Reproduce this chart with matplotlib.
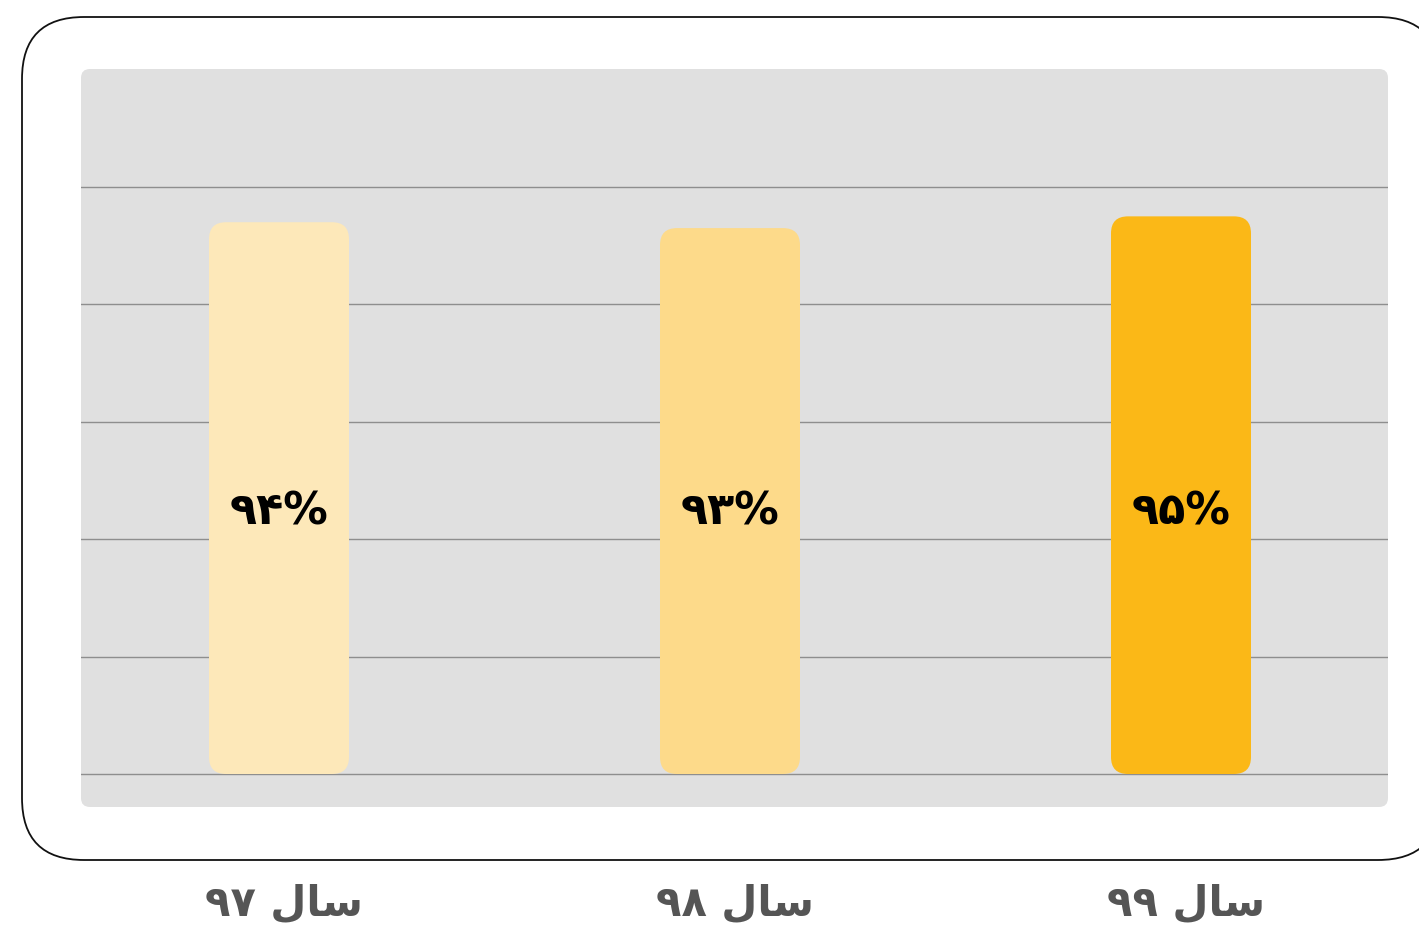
import matplotlib
matplotlib.use("Agg")
import matplotlib.pyplot as plt
from matplotlib.patches import FancyBboxPatch

# ---- data ----
categories = ["\u06f9\u06f7 \ufedd\ufe8e\ufeb3", "\u06f9\u06f8 \ufedd\ufe8e\ufeb3", "\u06f9\u06f9 \ufedd\ufe8e\ufeb3"]  # سال ۹۷ / ۹۸ / ۹۹ (visual order)
values = [94, 93, 95]
value_labels = ["\u06f9\u06f4%", "\u06f9\u06f3%", "\u06f9\u06f5%"]
bar_colors = ["#FDE8B9", "#FDDA8A", "#FBB817"]
yticks = [0, 20, 40, 60, 80, 100]

W, H = 1419, 925
fig = plt.figure(figsize=(W / 100, H / 100), dpi=100)
fig.patch.set_facecolor("white")

# decoration axes in pixel coords
bg = fig.add_axes([0, 0, 1, 1], zorder=0)
bg.set_xlim(0, W)
bg.set_ylim(H, 0)
bg.axis("off")
frame = FancyBboxPatch((22, 17), 1440 - 22, 860 - 17,
                       boxstyle="round,pad=0,rounding_size=62",
                       facecolor="white", edgecolor="#111111", linewidth=1.3)
bg.add_patch(frame)
panel = FancyBboxPatch((81, 69), 1388 - 81, 807 - 69,
                       boxstyle="round,pad=0,rounding_size=9",
                       facecolor="#E0E0E0", edgecolor="none")
bg.add_patch(panel)

# chart axes over the panel
x0, x1, y0, y1 = 81, 1388, 69, 807
ax = fig.add_axes([x0 / W, (H - y1) / H, (x1 - x0) / W, (y1 - y0) / H], zorder=1)
ax.patch.set_alpha(0)
ppx = 451.0       # pixels per x unit
ppy = 587.0 / 100  # pixels per y unit
ax.set_xlim((x0 - 279) / ppx, (x1 - 279) / ppx)
ax.set_ylim(-(y1 - 774) / ppy, (774 - y0) / ppy)
for s in ax.spines.values():
    s.set_visible(False)
ax.set_xticks([])
ax.set_yticks([])
for t in yticks:
    ax.axhline(t, color="#8E8E8E", linewidth=1.0, zorder=1)

xs = list(range(len(values)))
bars = ax.bar(xs, values, width=140 / ppx, color=bar_colors, zorder=2)
r = 17 / ppx
aspect = ppx / ppy
for b, c in zip(bars, bar_colors):
    b.set_visible(False)
    p = FancyBboxPatch((b.get_x(), b.get_y()), b.get_width(), b.get_height(),
                       boxstyle=f"round,pad=0,rounding_size={r}",
                       mutation_aspect=aspect, facecolor=c, edgecolor="none", zorder=3)
    ax.add_patch(p)

for x, lab in zip(xs, value_labels):
    ax.text(x, (774 - 512) / ppy, lab, ha="center", va="center", fontsize=32,
            fontweight="bold", color="black", family=["DejaVu Sans"], zorder=4)

for x, lab in zip(xs, categories):
    px = 284 + x * ppx
    bg.text(px, 904, lab, ha="center", va="center", fontsize=30,
            fontweight="bold", color="#555555", family=["DejaVu Sans"], zorder=4)

fig.savefig("out.png", dpi=100)
